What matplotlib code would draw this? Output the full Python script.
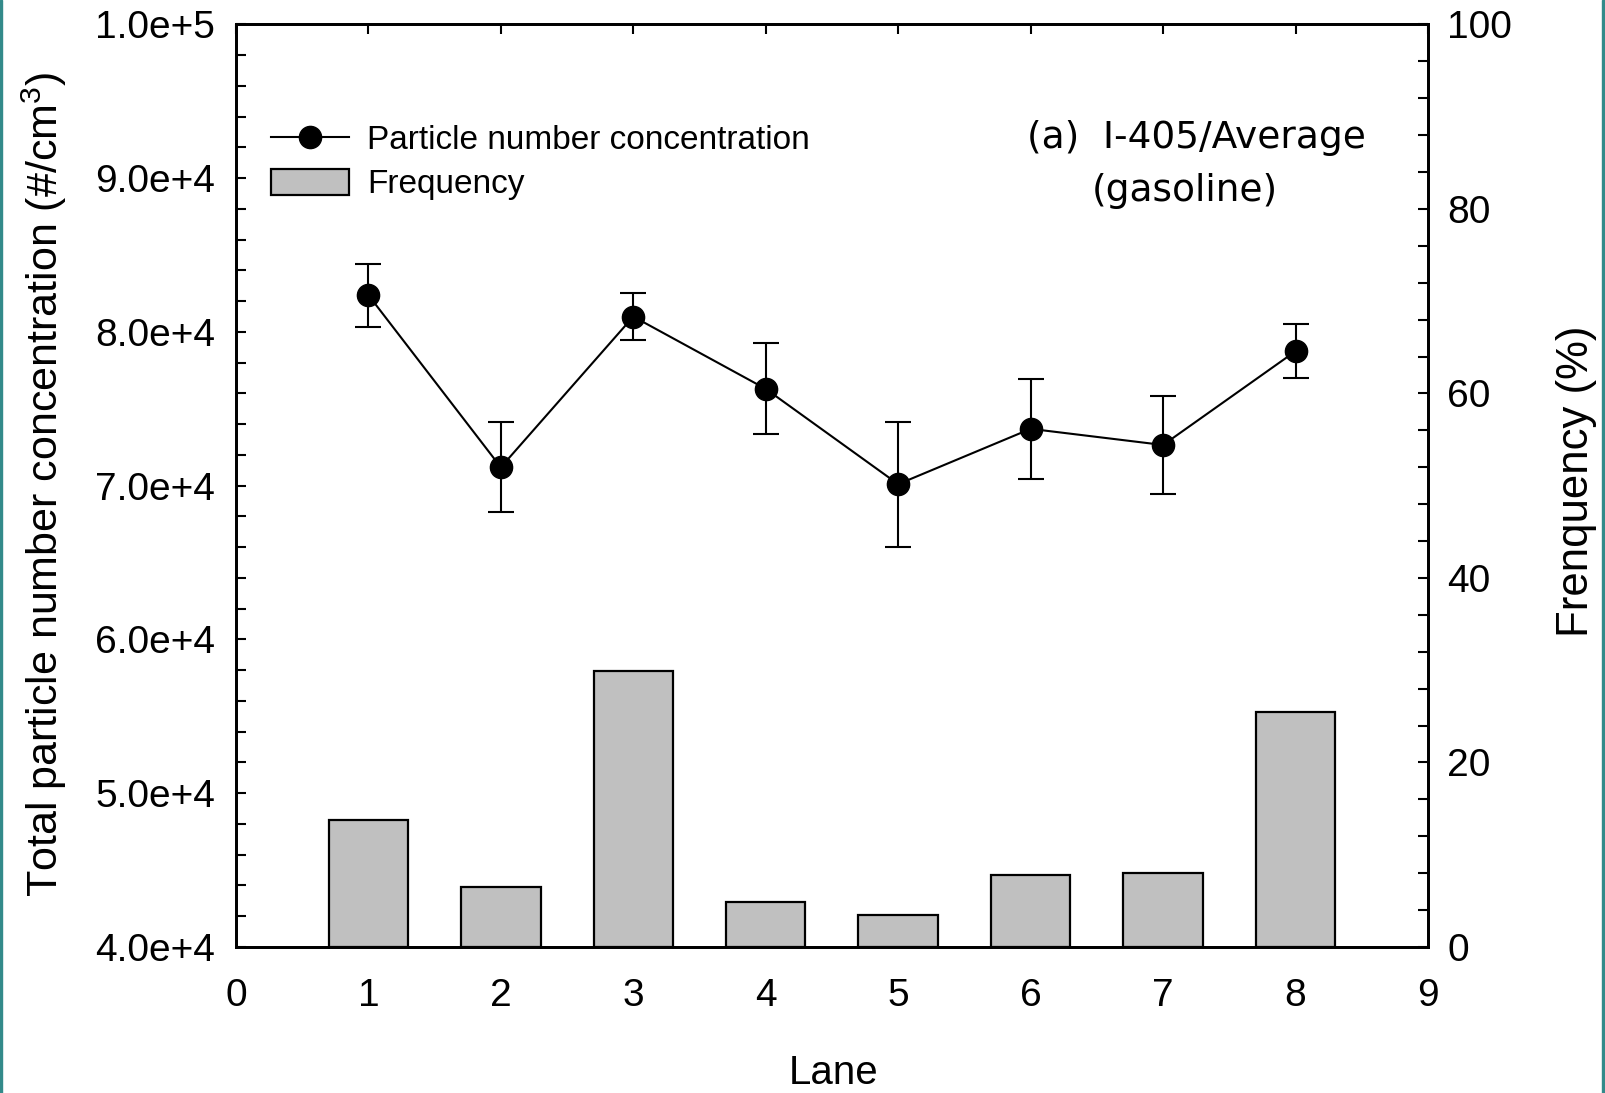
import matplotlib
matplotlib.use("Agg")
import matplotlib.pyplot as plt
from matplotlib.ticker import MultipleLocator, FuncFormatter
from matplotlib.lines import Line2D
from matplotlib.patches import Patch, Rectangle

# ---- data ----
lanes = [1, 2, 3, 4, 5, 6, 7, 8]
conc = [82400, 71200, 81000, 76300, 70100, 73700, 72650, 78750]
conc_err = [2050, 2930, 1510, 2960, 4070, 3240, 3170, 1740]
freq = [13.8, 6.5, 29.9, 4.9, 3.5, 7.8, 8.0, 25.5]

plt.rcParams["font.family"] = ["Liberation Sans", "DejaVu Sans"]
plt.rcParams["mathtext.fontset"] = "custom"
plt.rcParams["mathtext.rm"] = "Liberation Sans"
plt.rcParams["mathtext.default"] = "regular"


def sci_fmt(v, pos):
    if v == 0:
        return "0"
    s = f"{v:.1e}"
    mant, exp = s.split("e")
    return f"{mant}e{exp[0]}{int(exp[1:])}"


fig = plt.figure(figsize=(16.05, 10.93), dpi=100)
ax = fig.add_axes([0.147, 0.1336, 0.7427, 0.8440])
ax2 = ax.twinx()

# bars on the right axis, behind the line
ax2.bar(lanes, freq, width=0.6, color="#c0c0c0", edgecolor="black", linewidth=1.6)
ax2.set_ylim(0, 100)
ax2.yaxis.set_major_locator(MultipleLocator(20))
ax2.yaxis.set_minor_locator(MultipleLocator(4))
ax2.tick_params(axis="y", which="both", direction="in", length=7, width=1.5,
                labelsize=28, pad=14)
ax2.set_ylabel("Frenquency (%)", fontsize=31.5)
ax2.yaxis.set_label_coords(1.107, 0.505)

ax.set_zorder(ax2.get_zorder() + 1)
ax.patch.set_visible(False)

ax.errorbar(lanes, conc, yerr=conc_err, color="black", marker="o", markersize=16,
            linewidth=1.5, elinewidth=1.5, capsize=9.5, capthick=1.5)
ax.set_xlim(0, 9)
ax.set_ylim(40000, 100000)
ax.xaxis.set_major_locator(MultipleLocator(1))
ax.yaxis.set_major_locator(MultipleLocator(10000))
ax.yaxis.set_minor_locator(MultipleLocator(2000))
ax.yaxis.set_major_formatter(FuncFormatter(sci_fmt))
ax.tick_params(axis="x", which="both", direction="in", bottom=False, top=True,
               length=7, width=1.5, labelsize=28, pad=22)
ax.tick_params(axis="y", which="both", direction="in", left=True, right=False,
               length=7, width=1.5, labelsize=28, pad=15)
ax.set_xlabel("Lane", fontsize=29)
ax.xaxis.set_label_coords(0.501, -0.116)
ax.set_ylabel("Total particle number concentration (#/cm$^3$)", fontsize=31)
ax.yaxis.set_label_coords(-0.1404, 0.501)

for a in (ax, ax2):
    for sp in a.spines.values():
        sp.set_linewidth(2.0)

handles = [
    Line2D([], [], color="black", marker="o", markersize=16, linewidth=1.5),
    Patch(facecolor="#c0c0c0", edgecolor="black", linewidth=1.6),
]
ax.legend(handles, ["Particle number concentration", "Frequency"],
          loc="upper left", bbox_to_anchor=(0.029, 0.892), frameon=False,
          fontsize=24, handlelength=2.35, handleheight=0.85, handletextpad=0.55,
          labelspacing=0.38, borderpad=0, borderaxespad=0)

ax.text(0.806, 0.877, "(a)  I-405/Average", transform=ax.transAxes,
        ha="center", va="center", fontsize=27, family="DejaVu Sans")
ax.text(0.796, 0.820, "(gasoline)", transform=ax.transAxes,
        ha="center", va="center", fontsize=27, family="DejaVu Sans")

# thin teal strips at the picture edges
fig.patches.append(Rectangle((0, 0), 2 / 1605, 1, transform=fig.transFigure,
                             color="#338a8a", zorder=10))
fig.patches.append(Rectangle((1602 / 1605, 0), 3 / 1605, 1, transform=fig.transFigure,
                             color="#338a8a", zorder=10))

fig.savefig("out.png", dpi=100)
